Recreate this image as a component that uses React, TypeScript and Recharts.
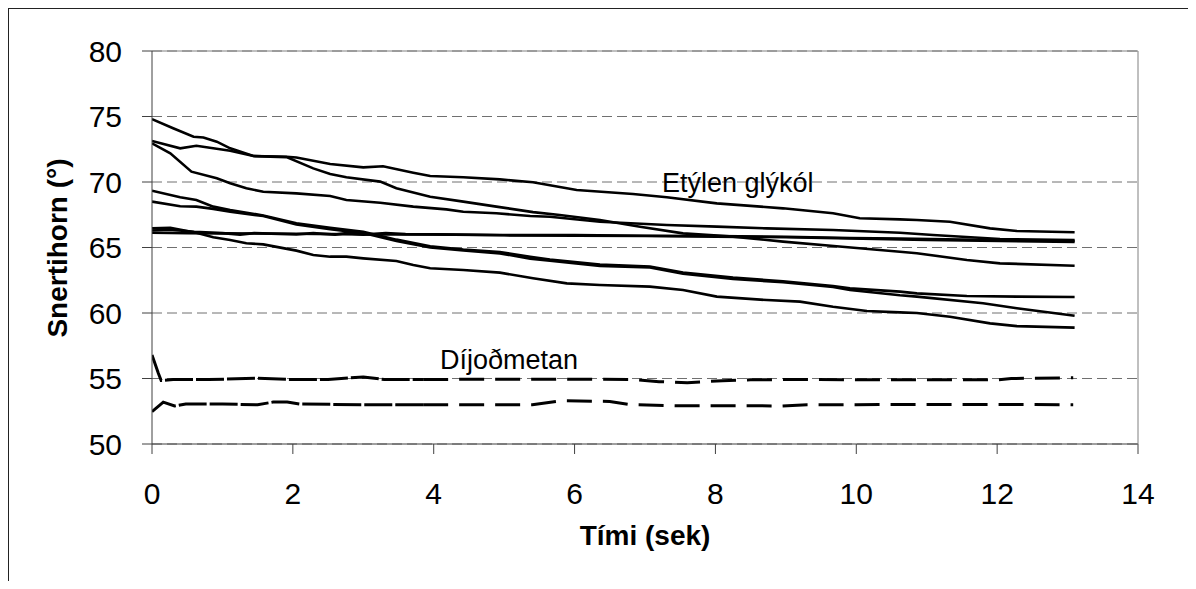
import React from "react"
import { CartesianGrid, Line, LineChart, ReferenceLine, XAxis, YAxis } from "recharts"

// [tími (sek), snertihorn (°)]
const etylen1 = [[0,74.8],[0.3,74.1],[0.59,73.46],[0.73,73.4],[0.92,73.08],[1.11,72.57],[1.44,71.98],[1.91,71.93],[2.05,71.87],[2.53,71.37],[3.0,71.12],[3.28,71.2],[3.71,70.71],[3.95,70.46],[4.42,70.36],[4.94,70.2],[5.41,69.98],[6.03,69.39],[6.83,69.08],[7.31,68.83],[8.02,68.37],[8.96,67.99],[9.67,67.61],[10.05,67.23],[10.62,67.15],[10.86,67.1],[11.33,66.97],[11.9,66.46],[12.28,66.26],[13.1,66.16]]
const etylen2 = [[0,73.13],[0.4,72.57],[0.63,72.77],[1.11,72.39],[1.44,71.98],[1.91,71.9],[2.29,71.04],[2.53,70.61],[2.76,70.36],[3.24,70.03],[3.47,69.52],[3.95,68.88],[4.42,68.5],[4.89,68.12],[5.41,67.7],[5.79,67.48],[6.36,67.1],[6.93,66.59],[7.54,66.08],[8.25,65.83],[8.96,65.45],[9.8,65.06],[10.62,64.68],[10.86,64.56],[11.57,64.05],[12.04,63.79],[13.1,63.61]]
const etylen3 = [[0,72.95],[0.26,72.19],[0.56,70.79],[0.92,70.28],[1.11,69.9],[1.34,69.52],[1.58,69.26],[2.05,69.13],[2.53,68.93],[2.76,68.63],[3.24,68.42],[3.71,68.12],[4.18,67.91],[4.42,67.73],[4.89,67.61],[5.37,67.4],[5.65,67.35],[6.36,66.97],[7.31,66.72],[8.02,66.59],[8.73,66.46],[9.67,66.34],[10.62,66.13],[11.09,65.95],[12.04,65.65],[13.1,65.57]]
const etylen4 = [[0,69.34],[0.4,68.83],[0.63,68.63],[0.87,68.12],[1.11,67.86],[1.58,67.45],[2.05,66.85],[2.53,66.5],[3.0,66.2],[3.47,65.6],[3.95,65.1],[4.42,64.85],[4.94,64.65],[5.37,64.3],[5.65,64.08],[6.36,63.7],[7.07,63.55],[7.54,63.08],[8.25,62.7],[8.96,62.42],[9.67,62.05],[9.91,61.88],[10.62,61.63],[10.86,61.5],[11.57,61.3],[12.28,61.25],[13.1,61.22]]
const etylen5 = [[0,68.5],[0.4,68.15],[0.63,68.12],[0.87,67.95],[1.11,67.73],[1.58,67.4],[2.05,66.75],[2.53,66.4],[3.0,66.1],[3.47,65.5],[3.95,65.0],[4.42,64.78],[4.94,64.55],[5.37,64.15],[5.65,64.0],[6.36,63.6],[7.07,63.48],[7.54,63.0],[8.25,62.6],[8.96,62.35],[9.67,61.98],[9.91,61.76],[10.62,61.35],[10.86,61.25],[11.8,60.74],[12.28,60.36],[13.1,59.79]]
const etylen6 = [[0,66.13],[0.5,66.1],[1,66.08],[2,66.05],[3,66.0],[4,66.0],[4.94,65.95],[6,65.95],[7,65.9],[8,65.88],[9,65.82],[9.91,65.72],[10.62,65.68],[11.5,65.6],[12.3,65.53],[13.1,65.5]]
const etylen7 = [[0,66.3],[0.25,66.35],[0.6,66.2],[1.0,66.1],[1.25,65.98],[1.45,66.1],[2.05,66.0],[2.29,66.1],[2.6,65.98],[2.76,66.1],[3.0,65.98],[3.32,66.1],[3.6,66.02],[5,65.93],[7,65.88],[9,65.78],[11,65.58],[13.1,65.42]]
const etylen8 = [[0,66.46],[0.26,66.51],[0.63,66.13],[0.87,65.78],[1.11,65.57],[1.34,65.32],[1.58,65.24],[2.05,64.76],[2.29,64.43],[2.53,64.3],[2.76,64.3],[3.0,64.17],[3.47,63.97],[3.71,63.66],[3.95,63.41],[4.42,63.28],[4.94,63.08],[5.41,62.65],[5.89,62.26],[6.36,62.14],[7.07,62.01],[7.54,61.75],[8.02,61.25],[8.73,60.99],[9.2,60.87],[9.67,60.48],[10.15,60.15],[10.62,60.05],[10.86,60.0],[11.33,59.72],[11.9,59.21],[12.28,59.0],[13.1,58.88]]

const dijod1 = [[0,56.8],[0.09,55.4],[0.13,54.85],[0.3,54.92],[0.8,54.92],[1.5,55.02],[2.0,54.92],[2.5,54.92],[3.0,55.12],[3.3,54.92],[3.85,54.92],[5,54.95],[6,54.95],[6.8,54.93],[7.2,54.76],[7.6,54.68],[8.1,54.83],[8.5,54.9],[9.2,54.93],[10,54.9],[11,54.9],[12,54.9],[12.2,55.0],[13.08,55.05]]
const dijod2 = [[0,52.47],[0.16,53.2],[0.32,52.9],[0.48,53.05],[1.0,53.05],[1.5,53.0],[1.72,53.2],[1.92,53.2],[2.1,53.05],[3.0,53.0],[3.85,53.0],[5,53.0],[5.4,53.0],[5.8,53.3],[6.5,53.25],[6.8,53.0],[7.5,52.92],[8.5,52.92],[8.95,52.9],[9.3,53.0],[10,53.0],[11,53.02],[12,53.02],[13.08,53.0]]

const etylenSeries = [etylen1, etylen2, etylen3, etylen4, etylen5, etylen6, etylen7, etylen8]
const dijodSeries = [dijod1, dijod2]

const xTicks = [0, 2, 4, 6, 8, 10, 12, 14]
const yTicks = [50, 55, 60, 65, 70, 75, 80]

const FONT = "'Liberation Sans', Arial, sans-serif"
const split = 3.85

const toPoints = (s: number[][]) => s.map(([t, v]) => ({ t, v }))

export default function App() {
  return (
    <div style={{ position: "relative", width: 1180, height: 573 }}>
      <div style={{ position: "absolute", left: -1, top: -1, width: 1187, height: 574, border: "2px solid #222", borderBottom: "none", boxSizing: "border-box" }} />
      <div style={{ position: "absolute", left: -8, top: -8, width: 1196, height: 589 }}>
        <LineChart width={1196} height={589} margin={{ top: 51, right: 58, left: 52, bottom: 75 }}>
          <CartesianGrid vertical={false} stroke="#707070" strokeDasharray="10 5" />
          <XAxis type="number" dataKey="t" domain={[0, 14]} ticks={xTicks} allowDataOverflow
            height={70} tickSize={10} tickMargin={29} stroke="#404040"
            tick={{ fill: "#000", fontSize: 30, fontFamily: FONT }} />
          <YAxis type="number" domain={[50, 80]} ticks={yTicks} allowDataOverflow
            width={100} tickSize={10} tickMargin={20} stroke="#404040"
            tick={{ fill: "#000", fontSize: 30, fontFamily: FONT }} />
          <ReferenceLine y={80} stroke="#808080" strokeWidth={1} />
          <ReferenceLine x={14} stroke="#808080" strokeWidth={1} />
          {etylenSeries.map((s, i) => (
            <Line key={"e" + i} data={toPoints(s)} dataKey="v" type="linear" dot={false}
              stroke="#000" strokeWidth={2.6} isAnimationActive={false} />
          ))}
          {dijodSeries.map((s, i) => (
            <Line key={"da" + i} data={toPoints(s.filter(p => p[0] <= split))} dataKey="v" type="linear" dot={false}
              stroke="#000" strokeWidth={3} strokeDasharray="28 3" isAnimationActive={false} />
          ))}
          {dijodSeries.map((s, i) => (
            <Line key={"db" + i} data={toPoints(s.filter(p => p[0] >= split))} dataKey="v" type="linear" dot={false}
              stroke="#000" strokeWidth={3} strokeDasharray="25 11" isAnimationActive={false} />
          ))}
        </LineChart>
        <svg width={1196} height={589} style={{ position: "absolute", left: 0, top: 0, pointerEvents: "none" }} fontFamily={FONT}>
          <text x={67} y={248} transform="rotate(-90, 67, 248)" textAnchor="middle" fontSize={28} fontWeight="bold">Snertihorn (°)</text>
          <text x={645} y={545} textAnchor="middle" fontSize={28} fontWeight="bold">Tími (sek)</text>
          <text x={662} y={192} fontSize={27}>Etýlen glýkól</text>
          <text x={440} y={369} fontSize={27}>Díjoðmetan</text>
        </svg>
      </div>
    </div>
  )
}
